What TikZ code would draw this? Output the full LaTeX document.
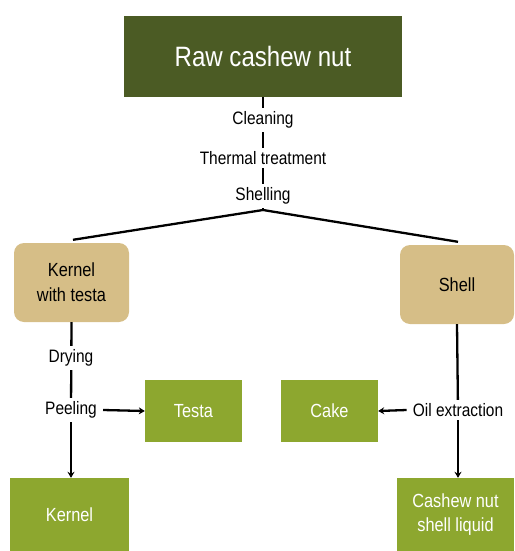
\documentclass[tikz,border=0pt]{standalone}
\usepackage{fontspec}
\setmainfont{Liberation Sans}[FakeStretch=0.86]
\usepackage{tikz}
\usetikzlibrary{arrows.meta,calc}
\definecolor{rawgreen}{HTML}{4B5B24}
\definecolor{prodgreen}{HTML}{8DA72F}
\definecolor{midtan}{HTML}{D6BE87}

\begin{document}
\begin{tikzpicture}[x=1pt,y=-1pt,
  box/.style={fill=prodgreen,text=white,align=center,font=\fontsize{19}{24}\selectfont,inner sep=0pt},
  midbox/.style={fill=midtan,rounded corners=10pt,align=center,font=\fontsize{19}{25}\selectfont,inner sep=0pt},
  proc/.style={fill=white,font=\fontsize{18}{20}\selectfont,inner xsep=6pt,inner ysep=3.5pt},
  flow/.style={line width=2.3pt},
  arr/.style={line width=2.3pt,-{Stealth[length=6pt,width=7pt]}}]
\useasboundingbox (0,0) rectangle (514,551);
% boxes
\node[box,fill=rawgreen,minimum width=278pt,minimum height=81pt,font=\fontsize{28}{30}\selectfont] (rawnut) at (263,56.5) {Raw cashew nut};
\node[midbox,minimum width=115pt,minimum height=79pt] (kernelt) at (71.5,282.5) {Kernel\\with testa};
\node[midbox,minimum width=114pt,minimum height=79pt] (shell) at (457,284.5) {Shell};
\node[box,minimum width=97pt,minimum height=62pt] (testa) at (193.5,411) {Testa};
\node[box,minimum width=119pt,minimum height=73pt] (kernel) at (69.5,514.5) {Kernel};
\node[box,minimum width=97pt,minimum height=62pt] (cake) at (329.5,411) {Cake};
\node[box,minimum width=117pt,minimum height=73pt] (cnsl) at (455.5,514.5) {Cashew nut\\shell liquid};
\coordinate (split) at (263,210);
% lines
\draw[flow] (rawnut.south) -- (split);
\draw[flow] (split) -- ($(kernelt.north)+(1.5,-3)$);
\draw[flow] (split) -- ($(shell.north)+(1,-3)$);
\draw[flow] (kernelt.south) -- (71,410);
\draw[flow] (shell.south) -- (458,410);
% steps
\node[proc] (cleaning) at (263,120) {Cleaning};
\node[proc] (thermal) at (263,158) {Thermal treatment};
\node[proc] (shelling) at (263,196) {Shelling};
\node[proc] (drying) at (71,358) {Drying};
\node[proc] (peeling) at (71,410) {Peeling};
\node[proc] (oilx) at (458,410) {Oil extraction};
% arrows
\draw[arr] (peeling.east) -- (testa.west);
\draw[arr] (peeling.south) -- (peeling.south |- kernel.north);
\draw[arr] (oilx.west) -- (cake.east);
\draw[arr] (oilx.south) -- (oilx.south |- cnsl.north);
\end{tikzpicture}
\end{document}
